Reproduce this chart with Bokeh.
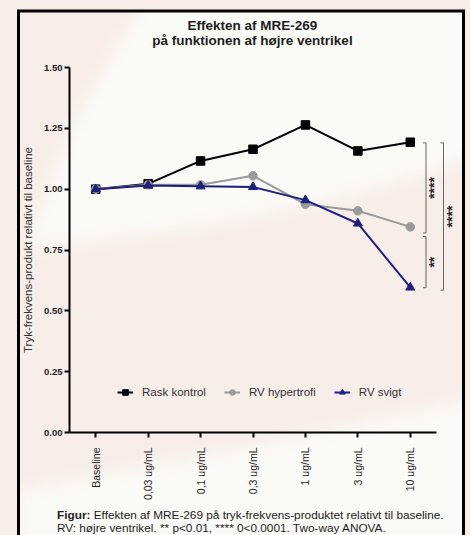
import math
import html
from urllib.parse import quote
from bokeh.plotting import figure
from bokeh.layouts import column
from bokeh.models import (ColumnDataSource, FixedTicker, NumeralTickFormatter, Range1d, Div)
from bokeh.core.properties import value
from bokeh.embed import file_html
from bokeh.resources import INLINE

# ---------------- data ----------------
categories = ["Baseline", "0,03 ug/mL", "0,1 ug/mL", "0,3 ug/mL", "1 ug/mL", "3 ug/mL", "10 ug/mL"]
rask_kontrol = [1.00, 1.022, 1.116, 1.164, 1.264, 1.157, 1.193]
rv_hypertrofi = [1.00, 1.018, 1.018, 1.055, 0.938, 0.911, 0.845]
rv_svigt = [1.00, 1.015, 1.012, 1.009, 0.955, 0.859, 0.596]
series_names = ["Rask kontrol", "RV hypertrofi", "RV svigt"]
y_ticks = [0.0, 0.25, 0.50, 0.75, 1.00, 1.25, 1.50]
# significance brackets (top value, bottom value, label)
bracket_top = [1.19, 0.805, 1.19]
bracket_bottom = [0.82, 0.595, 0.585]
bracket_label = ["****", "**", "****"]

title_lines = ["Effekten af MRE-269", "på funktionen af højre ventrikel"]
y_label = "Tryk-frekvens-produkt relativt til baseline"
caption_bold = "Figur:"
caption_1 = "Effekten af MRE-269 på tryk-frekvens-produktet relativt til baseline."
caption_2 = "RV: højre ventrikel. ** p<0.01, **** 0<0.0001. Two-way ANOVA."

# ---------------- geometry ----------------
W, H = 470, 535
TITLE_H, CAP_H = 50, 28
FIG_H = H - TITLE_H - CAP_H
FL, FT, FB, FR = 69, 67, 432, 460          # frame edges in page pixels
n = len(categories)
px_per_x = (436 - FL) / n
x_end = (FR - FL) / px_per_x

def px2x(px):
    return (px - FL) / px_per_x

FONT = "Liberation Sans"
TXT = "#1e1e1e"

xs = [i + 0.5 for i in range(n)]

p = figure(width=W, height=FIG_H, output_backend="svg", toolbar_location=None,
           x_range=Range1d(0, x_end), y_range=Range1d(0, y_ticks[-1]),
           min_border_left=FL, min_border_right=W - FR, min_border_top=FT - TITLE_H,
           min_border_bottom=(TITLE_H + FIG_H) - FB)
p.title.visible = False
p.border_fill_color = None
p.background_fill_color = None
p.outline_line_color = None
p.grid.visible = False
p.margin = 0

# axes
xa = p.xaxis[0]
xa.ticker = FixedTicker(ticks=xs)
xa.major_label_overrides = {x: c for x, c in zip(xs, categories)}
xa.bounds = (0, n)
xa.major_label_orientation = math.pi / 2
xa.major_label_text_font = FONT
xa.major_label_text_font_size = "10.5px"
xa.major_label_text_color = TXT
xa.major_label_standoff = 10
xa.axis_line_width = 2
xa.major_tick_line_width = 2
xa.major_tick_out = 5
xa.major_tick_in = 0
xa.minor_tick_line_color = None

ya = p.yaxis[0]
ya.ticker = FixedTicker(ticks=y_ticks)
ya.formatter = NumeralTickFormatter(format="0.00")
ya.major_label_text_font = FONT
ya.major_label_text_font_size = "9.5px"
ya.major_label_text_font_style = "bold"
ya.major_label_text_color = TXT
ya.major_label_standoff = 2
ya.axis_line_width = 2
ya.major_tick_line_width = 2
ya.major_tick_out = 5
ya.major_tick_in = 0
ya.minor_tick_line_color = None
ya.axis_label = y_label
ya.axis_label_text_font = FONT
ya.axis_label_text_font_size = "11.5px"
ya.axis_label_text_font_style = "normal"
ya.axis_label_text_color = "#333333"
ya.axis_label_standoff = 7

# series
src = ColumnDataSource(dict(x=xs, rask=rask_kontrol, hyp=rv_hypertrofi, svigt=rv_svigt))
styles = [("rask", "black", "square", 8.5), ("hyp", "#9a9a9a", "circle", 8.5), ("svigt", "#1f1f80", "triangle", 9)]
for (col, color, marker, size), name in zip(styles, series_names):
    p.line("x", col, source=src, line_color=color, line_width=2, legend_label=name)
    p.scatter("x", col, source=src, marker=marker, size=size, fill_color=color,
              line_color=color, legend_label=name)

# brackets
bx = [px2x(425.5), px2x(425.5), px2x(443)]
tick_len = 3 / px_per_x
bsrc = ColumnDataSource(dict(x=bx, top=bracket_top, bot=bracket_bottom,
                             xl=[v - tick_len for v in bx],
                             tx=[v + 8 / px_per_x for v in bx],
                             ty=[(a + b) / 2 for a, b in zip(bracket_top, bracket_bottom)],
                             t=bracket_label))
p.segment(x0="x", y0="top", x1="x", y1="bot", source=bsrc, line_color="#666666", line_width=1)
p.segment(x0="xl", y0="top", x1="x", y1="top", source=bsrc, line_color="#666666", line_width=1)
p.segment(x0="xl", y0="bot", x1="x", y1="bot", source=bsrc, line_color="#666666", line_width=1)
p.text(x="tx", y="ty", text="t", source=bsrc, angle=math.pi / 2, text_align="center",
       text_baseline="middle", text_font=value(FONT), text_font_size="14px",
       text_font_style="bold", text_color="#2a2a2a")

# legend
lg = p.legend[0]
lg.orientation = "horizontal"
lg.location = (48, 33)
lg.background_fill_alpha = 0
lg.border_line_color = None
lg.label_text_font = FONT
lg.label_text_font_size = "11.5px"
lg.label_text_color = "#333333"
lg.glyph_width = 16
lg.glyph_height = 14
lg.label_standoff = 9
lg.spacing = 18
lg.padding = 0
lg.margin = 0
lg.label_height = 14

# title and caption as text blocks
title_html = (
    f"<div style=\"font-family:'{FONT}';font-weight:bold;font-size:13.5px;line-height:15px;"
    f"color:{TXT};text-align:center;box-sizing:border-box;width:{W}px;padding-left:35px;"
    f"padding-top:18px;white-space:nowrap\">"
    + "<br>".join(html.escape(t) for t in title_lines) + "</div>"
)
caption_html = (
    f"<div style=\"font-family:'{FONT}';font-size:11.8px;line-height:13px;color:{TXT};"
    f"padding-left:57px;padding-top:2px;white-space:nowrap\">"
    f"<b>{html.escape(caption_bold)}</b> {html.escape(caption_1)}<br>{html.escape(caption_2)}</div>"
)
title_div = Div(text=title_html, width=W, height=TITLE_H, margin=0)
caption_div = Div(text=caption_html, width=W, height=CAP_H, margin=0)

# background (decorative) via CSS svg image
bg_svg = (
    "<svg xmlns='http://www.w3.org/2000/svg' width='470' height='535'>"
    "<defs><filter id='b' x='-20%' y='-20%' width='140%' height='140%'><feGaussianBlur stdDeviation='7'/></filter>"
    "<clipPath id='c'><rect x='20' y='12' width='442' height='530'/></clipPath></defs>"
    "<rect width='470' height='535' fill='#f7eee9'/>"
    "<g clip-path='url(#c)'>"
    "<path d='M165,-30 C105,60 55,150 30,248 C150,234 330,215 500,145 L500,-30 Z' fill='#fafaf6' filter='url(#b)'/>"
    "<path d='M19,491 L260,445 Q380,420 500,393 L500,580 L19,580 Z' fill='#fafaf6' filter='url(#b)'/>"
    "</g>"
    "<rect x='18.5' y='11' width='445' height='600' fill='none' stroke='black' stroke-width='3'/>"
    "</svg>"
)
layout = column(title_div, p, caption_div, spacing=0, margin=0, width=W, height=H)
layout.styles = {"background-image": 'url("data:image/svg+xml,' + quote(bg_svg) + '")',
                 "background-repeat": "no-repeat"}

open("out.html", "w").write(file_html(layout, INLINE))
